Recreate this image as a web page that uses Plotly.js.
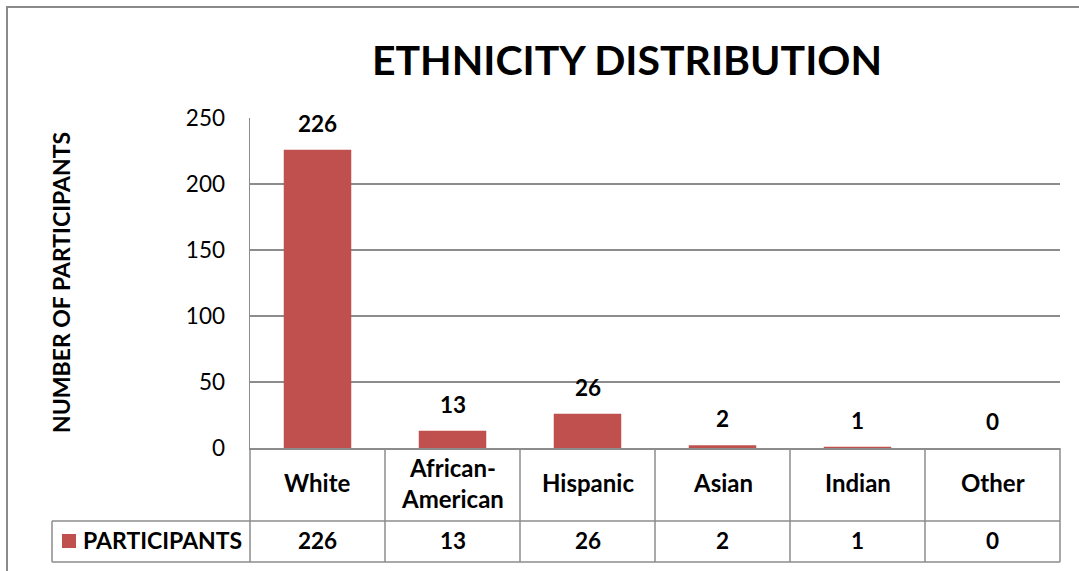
<!DOCTYPE html>
<html>
<head>
<meta charset="utf-8">
<script src="https://cdn.plot.ly/plotly-3.0.1.min.js"></script>
<style>html,body{margin:0;padding:0;background:#fff;}#chart{width:1079px;height:571px;}</style>
</head>
<body>
<div id="chart"></div>
<script>
const categories = ['White', 'African-American', 'Hispanic', 'Asian', 'Indian', 'Other'];
const tableLabels = ['White', 'African-<br>American', 'Hispanic', 'Asian', 'Indian', 'Other'];
const participants = [226, 13, 26, 2, 1, 0];
const seriesName = 'PARTICIPANTS';
const yTickVals = [0, 50, 100, 150, 200, 250];

const W = 1079, H = 571, L = 250, R = 1060, T = 118, B = 448;
const FONT = 'Lato, "Open Sans", sans-serif';
const BAR = '#C0504D';
const GRID = '#8c8c8c';
const px = x => (x - L) / (R - L);
const py = y => (B - y) / (B - T);

const n = categories.length;
const shapes = [];
const annotations = [];

// outer chart border (cut off at right and bottom)
shapes.push({type: 'rect', xref: 'paper', yref: 'paper', x0: px(7), x1: px(1100), y0: py(7), y1: py(600),
  line: {color: '#8a8a8a', width: 2}, fillcolor: 'rgba(0,0,0,0)', layer: 'below'});

// data table lines
const rowTop = 448, rowMid = 521, rowBot = 562, legLeft = 52;
for (let k = 0; k <= n; k++) {
  shapes.push({type: 'line', xref: 'paper', yref: 'paper', x0: k / n, x1: k / n, y0: py(rowTop), y1: py(rowBot),
    line: {color: GRID, width: 1.5}});
}
shapes.push({type: 'line', xref: 'paper', yref: 'paper', x0: px(legLeft), x1: 1, y0: py(rowMid), y1: py(rowMid), line: {color: GRID, width: 1.5}});
shapes.push({type: 'line', xref: 'paper', yref: 'paper', x0: px(legLeft), x1: 1, y0: py(rowBot), y1: py(rowBot), line: {color: GRID, width: 1.5}});
shapes.push({type: 'line', xref: 'paper', yref: 'paper', x0: px(legLeft), x1: px(legLeft), y0: py(rowMid), y1: py(rowBot), line: {color: GRID, width: 1.5}});
// legend key
shapes.push({type: 'rect', xref: 'paper', yref: 'paper', x0: px(62), x1: px(76), y0: py(548), y1: py(534),
  line: {width: 0}, fillcolor: BAR});
annotations.push({xref: 'paper', yref: 'paper', x: px(81), y: py(540), xanchor: 'left', yanchor: 'middle', showarrow: false,
  text: '<b>' + seriesName + '</b>', font: {family: FONT, size: 23, color: '#000'}});

// y axis title
annotations.push({xref: 'paper', yref: 'paper', x: px(61), y: py(283), xanchor: 'center', yanchor: 'middle', showarrow: false,
  textangle: -90, text: '<b>NUMBER OF PARTICIPANTS</b>', font: {family: FONT, size: 23, color: '#000'}});

for (let i = 0; i < n; i++) {
  const cx = (i + 0.5) / n;
  annotations.push({xref: 'paper', yref: 'paper', x: cx, y: py(483), xanchor: 'center', yanchor: 'middle', showarrow: false,
    text: '<b>' + tableLabels[i] + '</b>', font: {family: FONT, size: 24, color: '#000'}});
  annotations.push({xref: 'paper', yref: 'paper', x: cx, y: py(540.5), xanchor: 'center', yanchor: 'middle', showarrow: false,
    text: '<b>' + participants[i] + '</b>', font: {family: FONT, size: 22.5, color: '#000'}});
  // data labels above bars
  annotations.push({xref: 'x', yref: 'y', x: categories[i], y: participants[i], xanchor: 'center', yanchor: 'bottom', yshift: 11,
    showarrow: false, text: '<b>' + participants[i] + '</b>', font: {family: FONT, size: 22.5, color: '#000'}});
}

const trace = {
  type: 'bar', x: categories, y: participants, name: seriesName,
  marker: {color: BAR, line: {width: 0}}, hoverinfo: 'x+y'
};

const layout = {
  width: W, height: H,
  margin: {l: L, r: W - R, t: T, b: H - B, pad: 0},
  paper_bgcolor: '#fff', plot_bgcolor: '#fff',
  showlegend: false,
  bargap: 0.5,
  title: {text: '<b>ETHNICITY DISTRIBUTION</b>', font: {family: FONT, size: 41, color: '#000'},
    xref: 'container', x: 627 / W, xanchor: 'center', yref: 'container', y: 1 - 61 / H, yanchor: 'middle'},
  xaxis: {type: 'category', range: [-0.5, n - 0.5], showticklabels: false, ticks: '', showgrid: false,
    showline: true, linecolor: GRID, linewidth: 1.5, zeroline: false, fixedrange: true},
  yaxis: {range: [0, 250], tickvals: yTickVals, ticktext: yTickVals.map(String), showgrid: true, gridcolor: GRID, gridwidth: 1.5,
    showline: true, linecolor: GRID, linewidth: 1.5, zeroline: false, ticks: '', ticklabelstandoff: 19,
    tickfont: {family: FONT, size: 22.5, color: '#000'},
    fixedrange: true},
  shapes: shapes,
  annotations: annotations
};

Plotly.newPlot('chart', [trace], layout, {displayModeBar: false, staticPlot: true});
</script>
</body>
</html>
